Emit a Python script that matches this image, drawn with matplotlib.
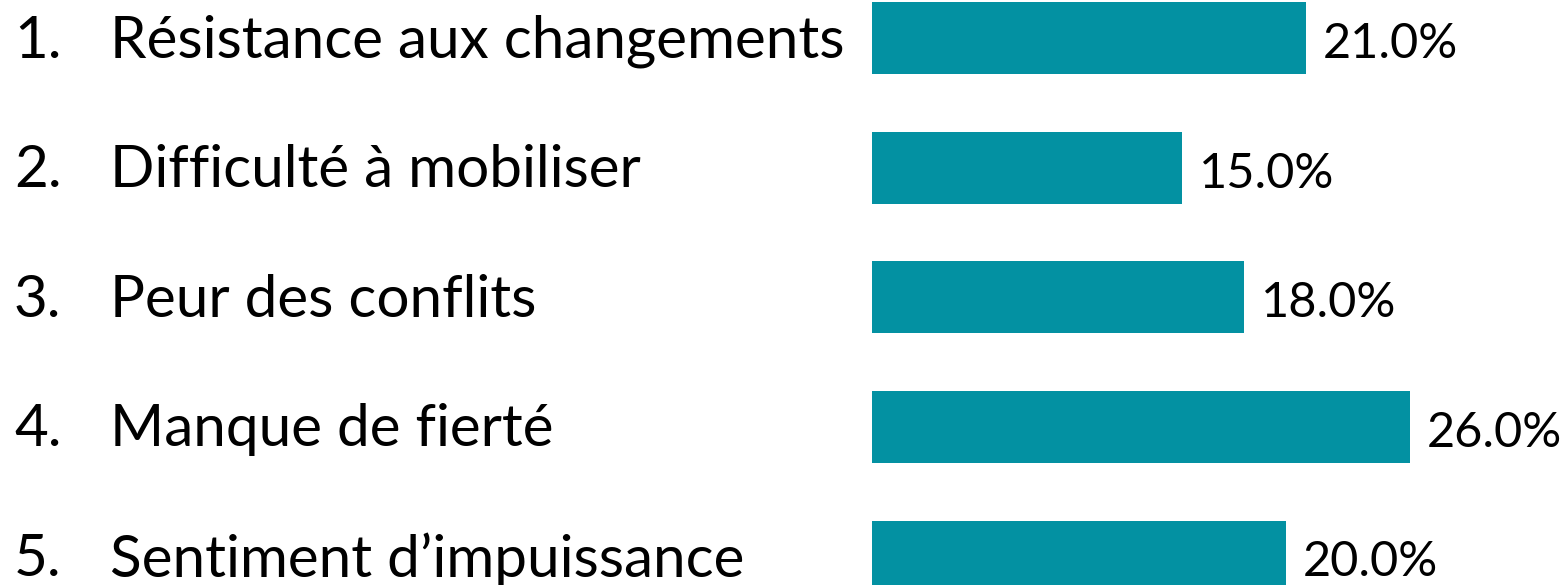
import matplotlib.pyplot as plt
import matplotlib.transforms as mtransforms

# data
numbers = ['1.', '2.', '3.', '4.', '5.']
labels = ['Résistance aux changements', 'Difficulté à mobiliser', 'Peur des conflits',
          'Manque de fierté', 'Sentiment d\u2019impuissance']
values = [21.0, 15.0, 18.0, 26.0, 20.0]

plt.rcParams['font.family'] = ['Lato', 'DejaVu Sans']
bar_color = '#0391a2'

fig = plt.figure(figsize=(15.67, 5.85), dpi=100)
ax = fig.add_axes([872 / 1567, 0, 1 - 872 / 1567, 1])

ypos = list(range(len(values)))
ax.barh(ypos, values, height=0.556, color=bar_color)
ax.set_xlim(0, 33.6)
ax.set_ylim(4.22, -0.297)
ax.axis('off')

# value labels
for y, v in zip(ypos, values):
    ax.annotate(f'{v:.1f}%', xy=(v, y), xytext=(12, -4), textcoords='offset points',
                va='center', ha='left', fontsize=35, color='black')

# category labels at the left
for y, num, lab in zip(ypos, numbers, labels):
    ax.annotate(num, xy=(14 / 1567, y), xycoords=(fig.transFigure, ax.transData),
                xytext=(0, -2), textcoords='offset points',
                va='center', ha='left', fontsize=42)
    ax.annotate(lab, xy=(110 / 1567, y), xycoords=(fig.transFigure, ax.transData),
                xytext=(0, -2), textcoords='offset points',
                va='center', ha='left', fontsize=42)

fig.savefig('out.png', dpi=100)
